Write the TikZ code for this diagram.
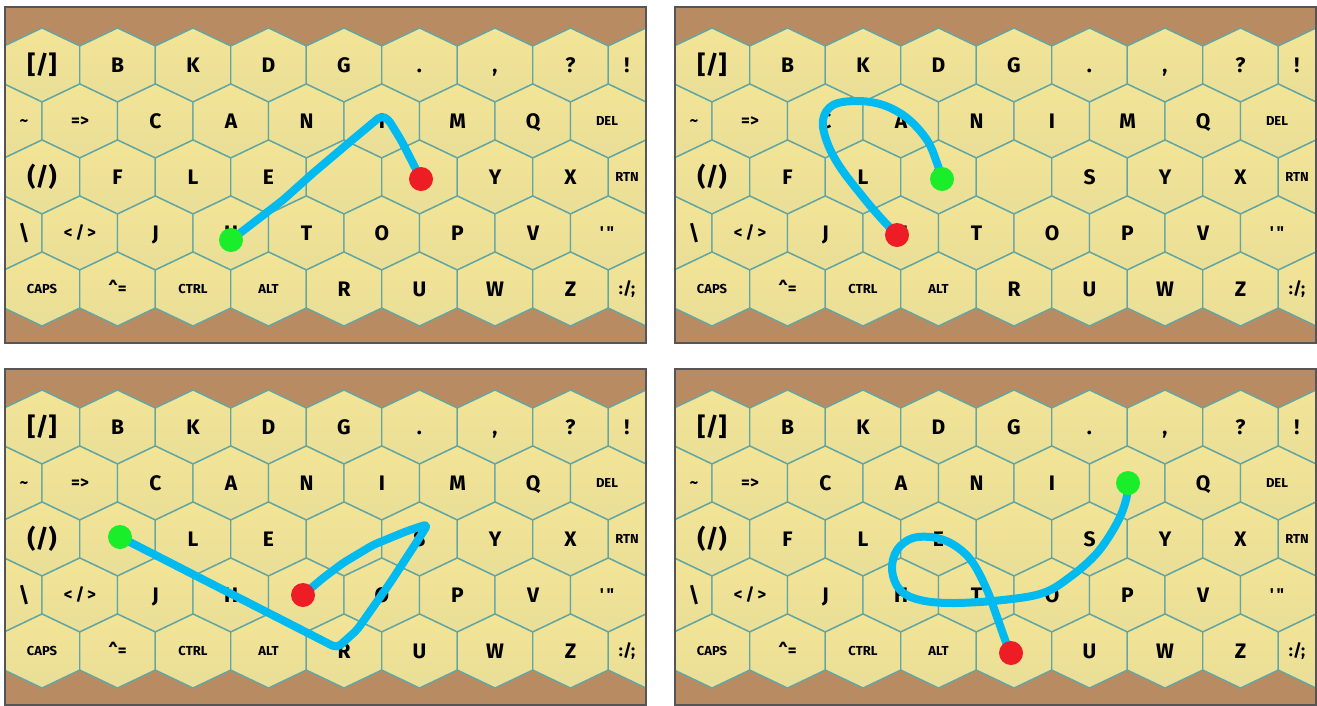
\documentclass[tikz,border=0pt]{standalone}
\usepackage{fontspec}
\setmainfont{Fira Sans}

\definecolor{boardbrown}{RGB}{185,139,99}
\definecolor{keytop}{RGB}{243,229,150}
\definecolor{keybot}{RGB}{233,222,152}
\definecolor{keyedge}{RGB}{98,166,164}
\definecolor{swipeblue}{RGB}{0,186,240}
\definecolor{startgreen}{RGB}{26,238,42}
\definecolor{endred}{RGB}{238,28,36}
\definecolor{panelgray}{RGB}{85,85,85}

\tikzset{
  keyhex/.style={top color=keytop, bottom color=keybot, draw=keyedge, line width=1.4pt},
  bigkey/.style={font=\fontsize{21}{21}\selectfont\bfseries, text height=14.5pt, text depth=0pt, inner sep=0pt},
  bracketkey/.style={font=\fontsize{25}{25}\selectfont\bfseries, text height=17pt, text depth=0pt, inner sep=0pt},
  midkey/.style={font=\fontsize{17}{17}\selectfont\bfseries, text height=11.7pt, text depth=0pt, inner sep=0pt},
  smallkey/.style={font=\fontsize{13}{13}\selectfont\bfseries, text height=9pt, text depth=0pt, inner sep=0pt},
  swipe/.style={draw=swipeblue, line width=8pt, line cap=round, line join=round},
  startdot/.style={circle, fill=startgreen, minimum size=24pt, inner sep=0pt},
  enddot/.style={circle, fill=endred, minimum size=24pt, inner sep=0pt},
  panelframe/.style={draw=panelgray, line width=1.5pt},
}

% one keyboard panel: #1 = shift, #2 = name prefix
\newcommand\keyboard[2]{%
\begin{scope}[shift={#1}]
  \fill[boardbrown] (5,7) rectangle (646,343);
  \begin{scope}
    \clip (5,7) rectangle (646,343);
    \foreach \cy/\xa in {65/42,121/4.25,177/42,233/4.25,289/42}
      \foreach \k in {0,...,8}
        \shade[keyhex] ({\xa+75.5*\k},\cy) ++(0,-37) -- ++(37.75,18) -- ++(0,38)
          -- ++(-37.75,18) -- ++(-37.75,-18) -- ++(0,-38) -- cycle;
  \end{scope}
  \foreach \x/\y/\sty/\lab [count=\i] in {
      42/65/bracketkey/{[/]}, 117.5/65/bigkey/B, 193/65/bigkey/K, 268.5/65/bigkey/D,
      344/65/bigkey/G, 419.5/65/bigkey/., 495/65/bigkey/{,}, 570.5/65/bigkey/?, 627/65/bigkey/!,
      24/121/midkey/\textasciitilde, 80/121/midkey/{=>}, 155.5/121/bigkey/C, 231/121/bigkey/A,
      306.5/121/bigkey/N, 382/121/bigkey/I, 457.5/121/bigkey/M, 533/121/bigkey/Q, 607/121/smallkey/DEL,
      42/177/bracketkey/{(/)}, 117.5/177/bigkey/F, 193/177/bigkey/L, 268.5/177/bigkey/E,
      419.5/177/bigkey/S, 495/177/bigkey/Y, 570.5/177/bigkey/X, 627/177/smallkey/RTN,
      24/233/bigkey/\textbackslash, 80/233/midkey/{<\,/\,>}, 155.5/233/bigkey/J, 231/233/bigkey/H,
      306.5/233/bigkey/T, 382/233/bigkey/O, 457.5/233/bigkey/P, 533/233/bigkey/V,
      607/233/midkey/{\textquotesingle\,\textquotedbl},
      42/289/smallkey/CAPS, 117.5/289/midkey/{\textasciicircum=}, 193/289/smallkey/CTRL,
      268.5/289/smallkey/ALT, 344/289/bigkey/R, 419.5/289/bigkey/U, 495/289/bigkey/W,
      570.5/289/bigkey/Z, 627/289/midkey/{:/;}}
    \node[\sty] (#2k\i) at (\x,\y) {\lab};
  \draw[panelframe] (5,7) rectangle (646,343);
\end{scope}}

\begin{document}
\begin{tikzpicture}[x=1pt, y=-1pt]
\useasboundingbox (0,0) rectangle (1317,705);

\keyboard{(0,0)}{p1}
\keyboard{(670,0)}{p2}
\keyboard{(0,362)}{p3}
\keyboard{(670,362)}{p4}

% panel 1
\coordinate (p1s) at (231,240);
\coordinate (p1e) at (421,179);
\draw[swipe, rounded corners=4pt] (p1s) -- (283,200) -- (312,174) -- (345,146) -- (381,116)
  -- (388,119) -- (401,140) -- (p1e);
\node[startdot] (p1start) at (p1s) {};
\node[enddot] (p1end) at (p1e) {};

% panel 2
\coordinate (p2s) at (942,179);
\coordinate (p2e) at (897,235);
\draw[swipe] plot[smooth, tension=0.6] coordinates {(p2s) (937,163) (927,140) (907,118)
  (883,105) (857,101) (833,105) (823,120) (827,142) (840,167) (863,197) (880,217) (p2e)};
\node[startdot] (p2start) at (p2s) {};
\node[enddot] (p2end) at (p2e) {};

% panel 3
\coordinate (p3s) at (120,537);
\coordinate (p3e) at (303,595);
\draw[swipe, rounded corners=5pt] (p3s) -- (337,648) -- (357,630) -- (390,583) -- (418,540)
  -- (428,524) -- (407,531) -- (373,545) -- (343,563) -- (323,578) -- (p3e);
\node[startdot] (p3start) at (p3s) {};
\node[enddot] (p3end) at (p3e) {};

% panel 4
\coordinate (p4s) at (1128,483);
\coordinate (p4e) at (1011,653);
\draw[swipe] plot[smooth, tension=0.6] coordinates {(p4s) (1126,500) (1117,523) (1097,553)
  (1070,577) (1043,593) (1003,600) (953,603) (920,600) (900,590) (892,570) (897,550)
  (913,538) (937,538) (957,547) (973,563) (987,590) (997,617) (1007,645) (p4e)};
\node[startdot] (p4start) at (p4s) {};
\node[enddot] (p4end) at (p4e) {};
\end{tikzpicture}
\end{document}
